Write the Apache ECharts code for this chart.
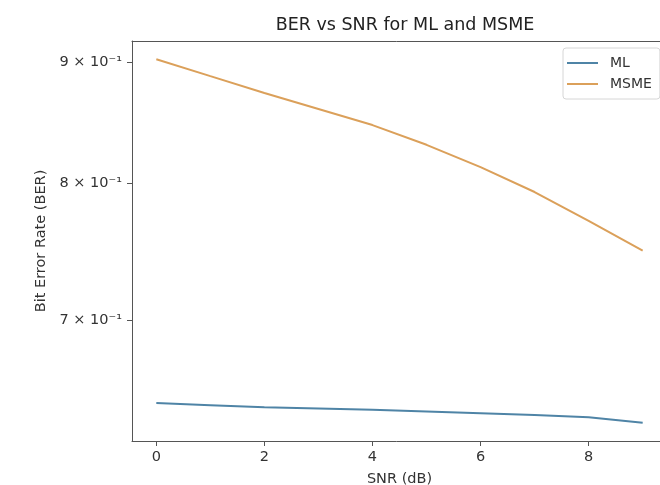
<!DOCTYPE html>
<html>
<head>
<meta charset="utf-8">
<title>BER vs SNR for ML and MSME</title>
<script src="https://cdn.jsdelivr.net/npm/echarts@6/dist/echarts.min.js"></script>
<style>html,body{margin:0;padding:0;background:#fff}</style>
</head>
<body>
<div id="chart" style="width:660px;height:485px"></div>
<script>
// values
var snr = [0, 1, 2, 3, 4, 5, 6, 7, 8, 9];
var berML = [0.6457, 0.6444, 0.6431, 0.6423, 0.6415, 0.6405, 0.6394, 0.6382, 0.6369, 0.6335];
var berMSME = [0.9024, 0.8877, 0.8733, 0.8597, 0.8464, 0.8303, 0.8125, 0.7930, 0.7711, 0.7491];
var xTicks = [0, 2, 4, 6, 8];
var yTicks = [0.7, 0.8, 0.9];

var font = 'DejaVu Sans';
var ink = '#333';
var spine = '#555';

var sup = {'-': '\u207B', '0': '\u2070', '1': '\u00B9', '2': '\u00B2', '3': '\u00B3',
  '4': '\u2074', '5': '\u2075', '6': '\u2076', '7': '\u2077', '8': '\u2078', '9': '\u2079'};
function sciLabel(v) {
  var e = Math.floor(Math.log10(v) + 1e-9);
  var m = Math.round(v / Math.pow(10, e));
  return m + ' \u00D7 10' + String(e).split('').map(function (c) { return sup[c]; }).join('');
}

function pairs(ys) {
  return snr.map(function (x, i) { return [x, ys[i]]; });
}

var chart = echarts.init(document.getElementById('chart'));
chart.setOption({
  animation: false,
  backgroundColor: '#fff',
  title: {
    text: 'BER vs SNR for ML and MSME',
    left: 400, top: 11, textAlign: 'center',
    textStyle: {fontFamily: font, fontSize: 17.5, fontWeight: 'normal', color: '#222'}
  },
  legend: {
    orient: 'vertical', left: 563, top: 48,
    data: ['ML', 'MSME'],
    icon: 'rect', itemWidth: 31, itemHeight: 2, itemGap: 7,
    padding: [8, 8, 8, 4],
    borderColor: '#d6d6d6', borderWidth: 1, borderRadius: 3, backgroundColor: '#fff',
    textStyle: {fontFamily: font, fontSize: 14, color: ink, padding: [0, 0, 0, 7]}
  },
  grid: {
    left: 132, right: -7, top: 41, bottom: 44,
    show: false, containLabel: false, outerBoundsMode: 'none'
  },
  xAxis: [{
    type: 'value', min: -0.45, max: 9.45,
    name: 'SNR (dB)', nameLocation: 'middle', nameGap: 31,
    nameTextStyle: {fontFamily: font, fontSize: 14.5, color: ink},
    axisLine: {show: true, onZero: false, lineStyle: {color: spine}},
    axisTick: {show: true, customValues: xTicks, length: 5, lineStyle: {color: spine}},
    axisLabel: {customValues: xTicks, margin: 9, fontFamily: font, fontSize: 14.5, color: ink},
    splitLine: {show: false}
  }, {
    // top spine only
    type: 'value', position: 'top', min: -0.45, max: 9.45,
    axisLine: {show: true, onZero: false, lineStyle: {color: spine}},
    axisTick: {show: false}, axisLabel: {show: false}, splitLine: {show: false}
  }],
  yAxis: {
    type: 'log', logBase: 10, min: 0.6223, max: 0.9186,
    name: 'Bit Error Rate (BER)', nameLocation: 'middle', nameGap: 80,
    nameTextStyle: {fontFamily: font, fontSize: 14.5, color: ink},
    axisLine: {show: true, onZero: false, lineStyle: {color: spine}},
    axisTick: {show: true, customValues: yTicks, length: 5, lineStyle: {color: spine}},
    axisLabel: {customValues: yTicks, margin: 10, fontFamily: font, fontSize: 14.5, color: ink,
      formatter: sciLabel},
    splitLine: {show: false},
    minorTick: {show: false}
  },
  series: [
    {
      name: 'ML', type: 'line', data: pairs(berML),
      symbol: 'none', showSymbol: false,
      lineStyle: {color: '#4f84a6', width: 2}, itemStyle: {color: '#4f84a6'}
    },
    {
      name: 'MSME', type: 'line', data: pairs(berMSME),
      symbol: 'none', showSymbol: false,
      lineStyle: {color: '#dba05a', width: 2}, itemStyle: {color: '#dba05a'}
    }
  ]
});
</script>
</body>
</html>
